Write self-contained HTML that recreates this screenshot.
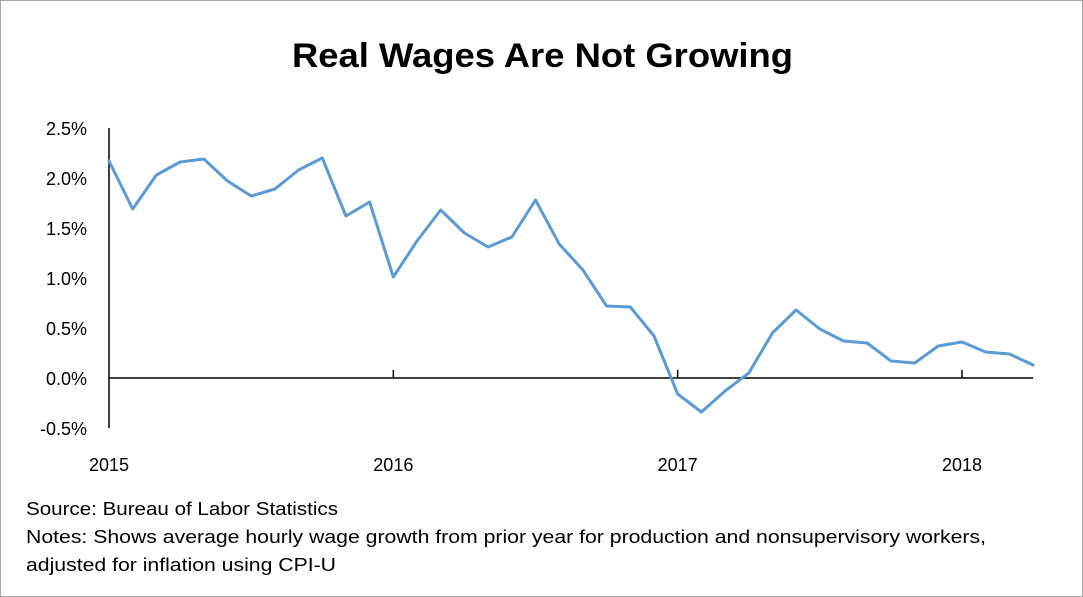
<!DOCTYPE html>
<html><head><meta charset="utf-8"><style>
html,body{margin:0;padding:0;background:#fff;}
#wrap{position:relative;width:1083px;height:597px;box-sizing:border-box;border:1px solid #a6a6a6;overflow:hidden;font-family:"Liberation Sans",Arial,sans-serif;}
svg text{font-family:"Liberation Sans",Arial,sans-serif;}
</style></head><body>
<div id="wrap">
<svg id="chart" width="1083" height="597">
<text x="291" y="66" textLength="501" lengthAdjust="spacingAndGlyphs" font-size="34" font-weight="bold" fill="#000">Real Wages Are Not Growing</text>
<g id="yticks"></g>
<g id="xticks"></g>
<g id="axes"></g>
<g id="series"></g>
<text x="25" y="514" textLength="312" lengthAdjust="spacingAndGlyphs" font-size="18" fill="#000">Source: Bureau of Labor Statistics</text>
<text x="25" y="542" textLength="960" lengthAdjust="spacingAndGlyphs" font-size="18" fill="#000">Notes: Shows average hourly wage growth from prior year for production and nonsupervisory workers,</text>
<text x="25" y="570" textLength="310" lengthAdjust="spacingAndGlyphs" font-size="18" fill="#000">adjusted for inflation using CPI-U</text>
</svg>
</div>
<script>
const values = [2.17,1.69,2.03,2.16,2.19,1.97,1.82,1.89,2.08,2.20,1.62,1.76,1.01,1.37,1.68,1.45,1.31,1.41,1.78,1.34,1.08,0.72,0.71,0.42,-0.16,-0.34,-0.13,0.05,0.45,0.68,0.49,0.37,0.35,0.17,0.15,0.32,0.36,0.26,0.24,0.13];
const yTicks = [2.5,2.0,1.5,1.0,0.5,0.0,-0.5];
const yTickLabels = ["2.5%","2.0%","1.5%","1.0%","0.5%","0.0%","-0.5%"];
const xYears = ["2015","2016","2017","2018"];
const xYearIndex = [0,12,24,36];

const NS="http://www.w3.org/2000/svg";
const X0=108, MONTH=(961-108)/36;
function xs(i){return X0+i*MONTH;}
function ys(v){return 377-v*100;}
function mk(tag,attrs,parent){const e=document.createElementNS(NS,tag);for(const k in attrs)e.setAttribute(k,attrs[k]);parent.appendChild(e);return e;}

const yg=document.getElementById('yticks');
yTicks.forEach((v,i)=>{
  const t=mk('text',{x:86,y:ys(v)+7,'text-anchor':'end','font-size':18,fill:'#000'},yg);
  
  
  t.textContent=yTickLabels[i];
});
const xg=document.getElementById('xticks');
const ag=document.getElementById('axes');
xYears.forEach((y,i)=>{
  const x=xs(xYearIndex[i]);
  const t=mk('text',{x:x,y:470,'text-anchor':'middle','font-size':18,fill:'#000'},xg);
  
  
  t.textContent=y;
  if(i>0){
    const tk=mk('line',{x1:x,x2:x,y1:ys(0),y2:ys(0)-8,stroke:'#000','stroke-width':1.5},ag);
    
    
  }
});
const ya=mk('line',{x1:X0,x2:X0,y1:ys(2.5),y2:ys(-0.5),stroke:'#000','stroke-width':1.5},ag);


const xa=mk('line',{x1:X0,x2:xs(values.length-1),y1:ys(0),y2:ys(0),stroke:'#000','stroke-width':1.5},ag);



const sg=document.getElementById('series');
const pts=values.map((v,i)=>xs(i).toFixed(1)+','+ys(v).toFixed(1)).join(' ');
const pl=mk('polyline',{points:pts,fill:'none',stroke:'#5b9bd5','stroke-width':3,'stroke-linejoin':'round','stroke-linecap':'round'},sg);


</script>
</body></html>
